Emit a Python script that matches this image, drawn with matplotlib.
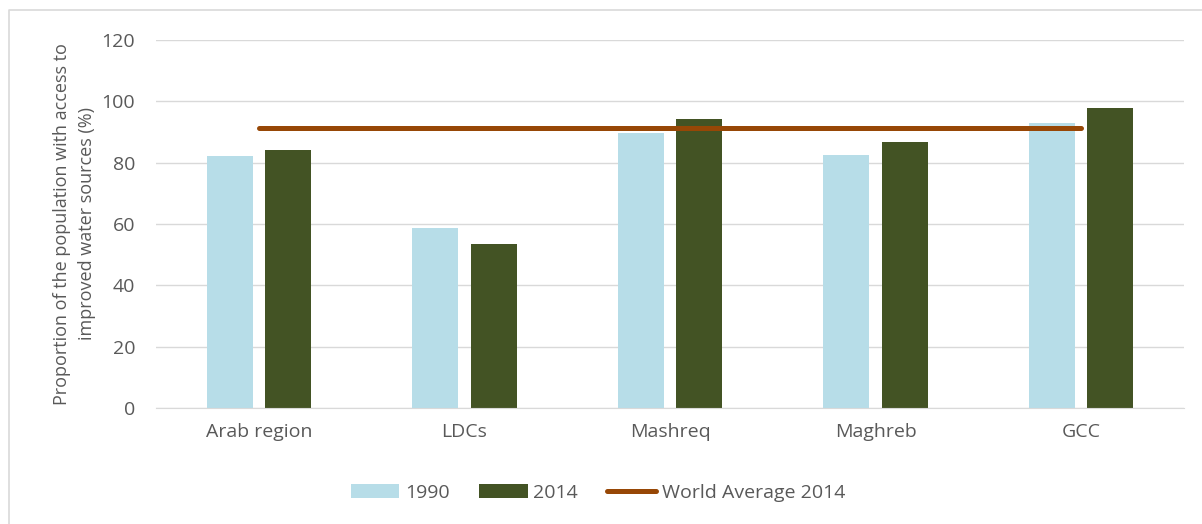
import numpy as np
import matplotlib
matplotlib.use("Agg")
from matplotlib import pyplot as plt
from matplotlib.lines import Line2D

categories = ['Arab region', 'LDCs', 'Mashreq', 'Maghreb', 'GCC']
values_1990 = [82.3, 58.7, 89.7, 82.5, 92.8]
values_2014 = [84.2, 53.4, 94.2, 86.6, 97.9]
world_avg_2014 = [91.4, 91.4, 91.4, 91.4, 91.4]

plt.rcParams['font.family'] = ['Open Sans', 'DejaVu Sans']
text_color = '#595959'
W, H = 1202, 524

fig = plt.figure(figsize=(W / 100, H / 100), dpi=100)
ax = fig.add_axes([156 / W, 1 - 408 / H, 1028 / W, 368 / H])

x = np.arange(len(categories))
w = 0.224
b1 = ax.bar(x - 0.142, values_1990, w, color='#b7dde8', label='1990', zorder=2)
b2 = ax.bar(x + 0.142, values_2014, w, color='#435324', label='2014', zorder=2)
ln, = ax.plot(x, world_avg_2014, color='#974706', lw=3.6, solid_capstyle='round',
              label='World Average 2014', zorder=3)

ax.set_xlim(-0.5, 4.5)
ax.set_ylim(0, 120)
ax.set_yticks(range(0, 121, 20))
ax.set_xticks(x)
ax.set_xticklabels(categories)
ax.grid(axis='y', color='#d9d9d9', lw=1, zorder=0)
for s in ['top', 'right', 'left']:
    ax.spines[s].set_visible(False)
ax.spines['bottom'].set_color('#d9d9d9')
ax.tick_params(length=0, colors=text_color, labelsize=14)
ax.tick_params(axis='x', pad=11)
ax.tick_params(axis='y', pad=15)
ax.set_ylabel('Proportion of the population with access to\nimproved water sources (%)',
              color=text_color, fontsize=13, labelpad=4, linespacing=1.5)

ax.legend(handles=[b1, b2, ln], loc='center', bbox_to_anchor=(598 / W, 1 - 493 / H),
          bbox_transform=fig.transFigure, ncol=3, frameon=False,
          fontsize=14, labelcolor=text_color, handlelength=2.5,
          handleheight=0.75, columnspacing=1.5, handletextpad=0.3)

# outer frame: only top and left edges fall inside the picture
fig.lines.append(Line2D([9 / W, 9 / W, 1], [0, 1 - 10 / H, 1 - 10 / H],
                        transform=fig.transFigure, color='#d9d9d9', lw=1.2))

fig.savefig('out.png', dpi=100)
